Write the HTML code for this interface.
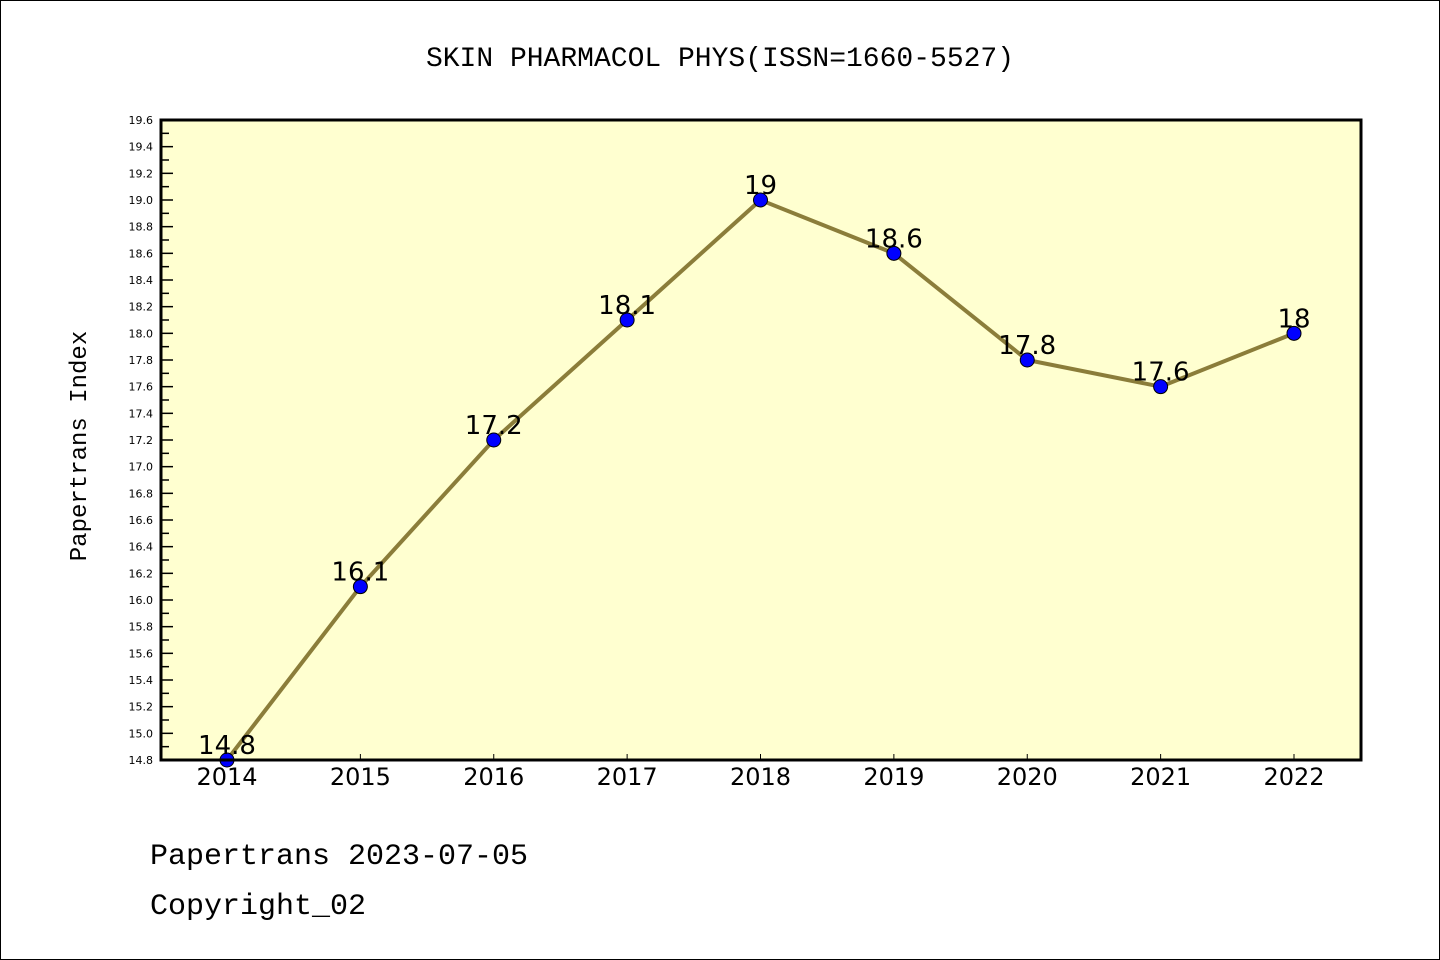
<!DOCTYPE html>
<html><head><meta charset="utf-8"><style>
body{margin:0;background:#fff}
svg{display:block;font-family:"Liberation Mono","DejaVu Sans Mono",monospace}
</style></head><body>
<svg width="1440" height="960" xmlns="http://www.w3.org/2000/svg">
<rect x="0.5" y="0.5" width="1439" height="959" fill="#fff" stroke="#000"/>
<text x="720" y="66" font-size="28" text-anchor="middle">SKIN PHARMACOL PHYS(ISSN=1660-5527)</text>
<rect x="161" y="120" width="1200" height="640" fill="#ffffd0"/>
<g id="yaxis"></g>
<g id="xaxis"></g>
<g id="series"></g>
<rect x="161" y="120" width="1200" height="640" fill="none" stroke="#000" stroke-width="3"/>
<text x="86" y="446" font-size="24" text-anchor="middle" transform="rotate(-90 86 446)">Papertrans Index</text>
<text x="150" y="864" font-size="30">Papertrans 2023-07-05</text>
<text x="150" y="914" font-size="30">Copyright_02</text>
</svg>
<script>
const years=["2014","2015","2016","2017","2018","2019","2020","2021","2022"];
const values=[14.8,16.1,17.2,18.1,19.0,18.6,17.8,17.6,18.0];
const valueLabels=["14.8","16.1","17.2","18.1","19","18.6","17.8","17.6","18"];
const yMin=14.8,yMax=19.6;
const NS="http://www.w3.org/2000/svg";
const X0=161,X1=1361,Y0=760,Y1=120;
const xs=i=>227+i*(1294-227)/(years.length-1);
const ys=v=>Y0-(v-yMin)/(yMax-yMin)*(Y0-Y1);
function mk(t,a,p){const e=document.createElementNS(NS,t);for(const k in a)e.setAttribute(k,a[k]);p.appendChild(e);return e;}
const ya=document.getElementById('yaxis');
for(let k=0;k<=48;k++){
 const v=yMin+k*0.1,y=ys(v),major=k%2==0;
 const t=mk('line',{x1:X0,x2:X0+(major?12:8),y1:y,y2:y,stroke:'#000','stroke-width':1.5},ya);
 
 
 if(major){const l=mk('text',{x:153,y:y+4,'font-size':11,'text-anchor':'end','font-family':'DejaVu Sans, sans-serif'},ya);l.textContent=v.toFixed(1);
 
 }
}
const xa=document.getElementById('xaxis');
years.forEach((yr,i)=>{
 const x=xs(i);
 const t=mk('line',{x1:x,x2:x,y1:Y0,y2:Y0-6,stroke:'#000','stroke-width':1},xa);
 
 
 const l=mk('text',{x:x,y:785,'font-size':24,'text-anchor':'middle','font-family':'DejaVu Sans, sans-serif'},xa);l.textContent=yr;
 
 
});
const s=document.getElementById('series');
const pl=mk('polyline',{points:values.map((v,i)=>xs(i)+','+ys(v)).join(' '),fill:'none',stroke:'#8b7d3a','stroke-width':4},s);


values.forEach((v,i)=>{
 const c=mk('circle',{cx:xs(i),cy:ys(v),r:7,fill:'#0000ff',stroke:'#000','stroke-width':1},s);
 
 
 const l=mk('text',{x:xs(i),y:ys(v)-6,'font-size':26,'text-anchor':'middle','font-family':'DejaVu Sans, sans-serif'},s);l.textContent=valueLabels[i];
 
 
});
</script>
</body></html>
